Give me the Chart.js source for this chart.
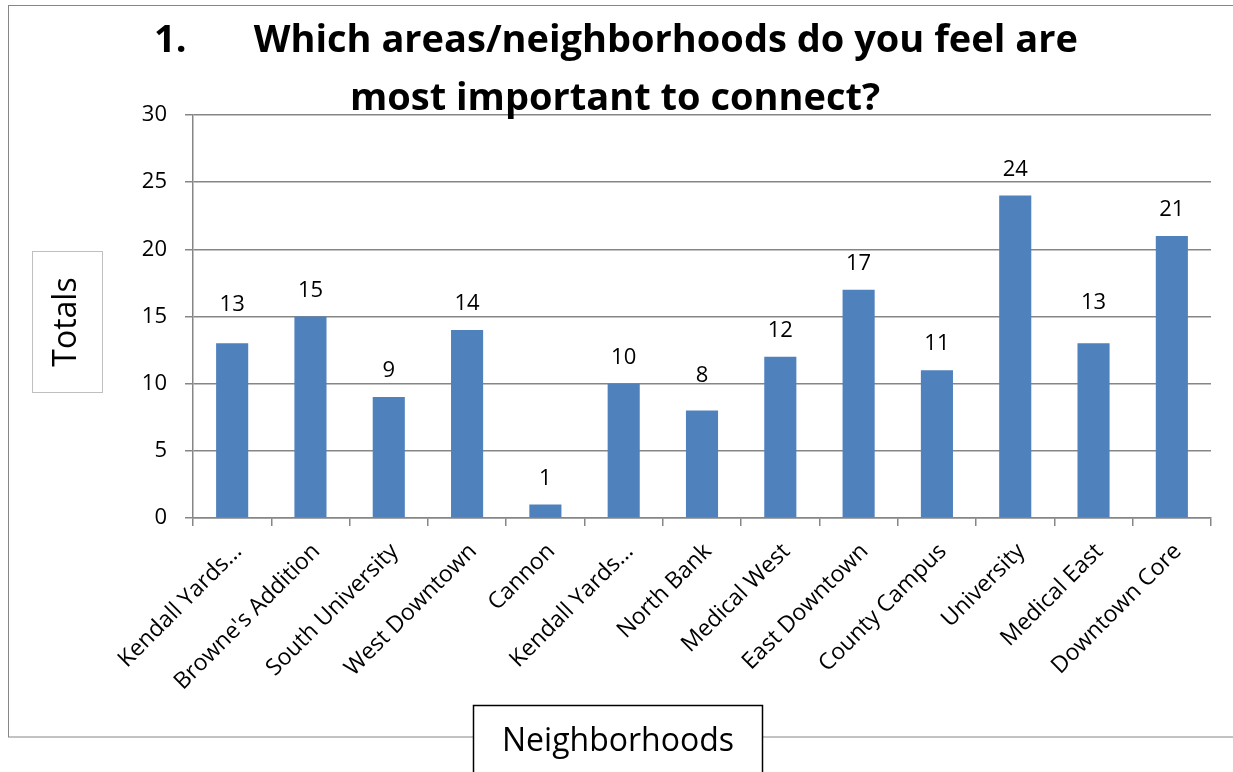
<!DOCTYPE html>
<html>
<head>
<meta charset="utf-8">
<script src="https://cdn.jsdelivr.net/npm/chart.js@4/dist/chart.umd.min.js"></script>
<style>
  html, body { margin: 0; padding: 0; background: #ffffff; }
  #wrap { width: 1233px; height: 772px; }
</style>
</head>
<body>
<div id="wrap"><canvas id="c" width="1233" height="772"></canvas></div>
<script>
// ---- data ----
const categories = [
  "Kendall Yards...", "Browne's Addition", "South University", "West Downtown",
  "Cannon", "Kendall Yards...", "North Bank", "Medical West", "East Downtown",
  "County Campus", "University", "Medical East", "Downtown Core"
];
const totals = [13, 15, 9, 14, 1, 10, 8, 12, 17, 11, 24, 13, 21];
const yTicks = [0, 5, 10, 15, 20, 25, 30];
const titleNumber = "1.";
const titleLines = ["Which areas/neighborhoods do you feel are", "most important to connect?"];
const yAxisTitle = "Totals";
const xAxisTitle = "Neighborhoods";

const FONT = "'Open Sans', Lato, sans-serif";
const GRID = "#868686";
const BAR = "#4F81BD";

const decor = {
  id: 'decor',
  beforeDraw(chart) {
    const ctx = chart.ctx;
    ctx.save();
    ctx.fillStyle = '#ffffff';
    ctx.fillRect(0, 0, chart.width, chart.height);
    ctx.strokeStyle = GRID;
    ctx.lineWidth = 1;
    ctx.strokeRect(8.5, 5.5, 1400, 731.5);
    ctx.restore();
  },
  afterDatasetsDraw(chart, args, opts) {
    const ctx = chart.ctx;
    const meta = chart.getDatasetMeta(0);
    ctx.save();
    ctx.font = "22px " + FONT;
    ctx.fillStyle = '#000';
    ctx.textAlign = 'center';
    ctx.textBaseline = 'alphabetic';
    meta.data.forEach((bar, i) => {
      const nudge = (opts.nudge && opts.nudge[i]) || 0;
      ctx.fillText(String(totals[i]), bar.x, bar.y - 20 + nudge);
    });
    ctx.restore();
  },
  afterDraw(chart) {
    const ctx = chart.ctx;
    ctx.save();
    // title
    ctx.font = "bold 38px " + FONT;
    ctx.fillStyle = '#000';
    ctx.textBaseline = 'alphabetic';
    ctx.textAlign = 'left';
    const gap = 67;
    const w1 = ctx.measureText(titleNumber).width;
    const w2 = ctx.measureText(titleLines[0]).width;
    const cx = 616;
    const x0 = cx - (w1 + gap + w2) / 2;
    ctx.fillText(titleNumber, x0, 52);
    ctx.fillText(titleLines[0], x0 + w1 + gap, 52);
    ctx.textAlign = 'center';
    ctx.fillText(titleLines[1], 615, 110);

    // y axis title box
    ctx.fillStyle = '#fff';
    ctx.fillRect(32, 251, 71, 142);
    ctx.strokeStyle = '#BFBFBF';
    ctx.lineWidth = 1;
    ctx.strokeRect(32.5, 251.5, 70, 141);
    ctx.save();
    ctx.translate(67, 322);
    ctx.rotate(-Math.PI / 2);
    ctx.font = "32px " + FONT;
    ctx.fillStyle = '#000';
    ctx.textAlign = 'center';
    ctx.textBaseline = 'middle';
    ctx.fillText(yAxisTitle, 0, 0);
    ctx.restore();

    // x axis title box
    ctx.fillStyle = '#fff';
    ctx.fillRect(473, 705, 290, 80);
    ctx.strokeStyle = '#000';
    ctx.lineWidth = 1.5;
    ctx.strokeRect(473.5, 705.5, 289, 80);
    ctx.font = "32px " + FONT;
    ctx.fillStyle = '#000';
    ctx.textAlign = 'center';
    ctx.textBaseline = 'alphabetic';
    ctx.fillText(xAxisTitle, 618, 751);
    ctx.restore();
  }
};

new Chart(document.getElementById('c'), {
  type: 'bar',
  data: {
    labels: categories,
    datasets: [{
      data: totals,
      backgroundColor: BAR,
      borderWidth: 0,
      barPercentage: 0.41,
      categoryPercentage: 1.0
    }]
  },
  options: {
    responsive: false,
    animation: false,
    devicePixelRatio: 1,
    layout: { padding: { left: 0, top: 115, right: 22, bottom: 0 } },
    plugins: {
      legend: { display: false },
      title: { display: false },
      tooltip: { enabled: false },
      decor: { nudge: { 0: -12, 6: -9, 11: -14 } }
    },
    scales: {
      x: {
        offset: true,
        grid: {
          offset: true,
          drawOnChartArea: false,
          drawTicks: true,
          tickLength: 8,
          color: GRID,
          lineWidth: 1.5
        },
        border: { color: GRID, width: 1.5 },
        ticks: {
          autoSkip: false,
          minRotation: 45,
          maxRotation: 45,
          color: '#000',
          padding: 12,
          labelOffset: 6,
          font: { family: FONT, size: 23 }
        },
        afterFit(scale) { scale.height = 254; }
      },
      y: {
        min: 0,
        max: 30,
        afterBuildTicks(scale) { scale.ticks = yTicks.map(v => ({ value: v })); },
        grid: {
          color: GRID,
          lineWidth: 1.5,
          drawTicks: true,
          tickLength: 8
        },
        border: { color: GRID, width: 1.5 },
        ticks: {
          color: '#000',
          padding: 18,
          font: { family: FONT, size: 22 }
        },
        afterFit(scale) { scale.width = 193; }
      }
    }
  },
  plugins: [decor]
});
</script>
</body>
</html>
